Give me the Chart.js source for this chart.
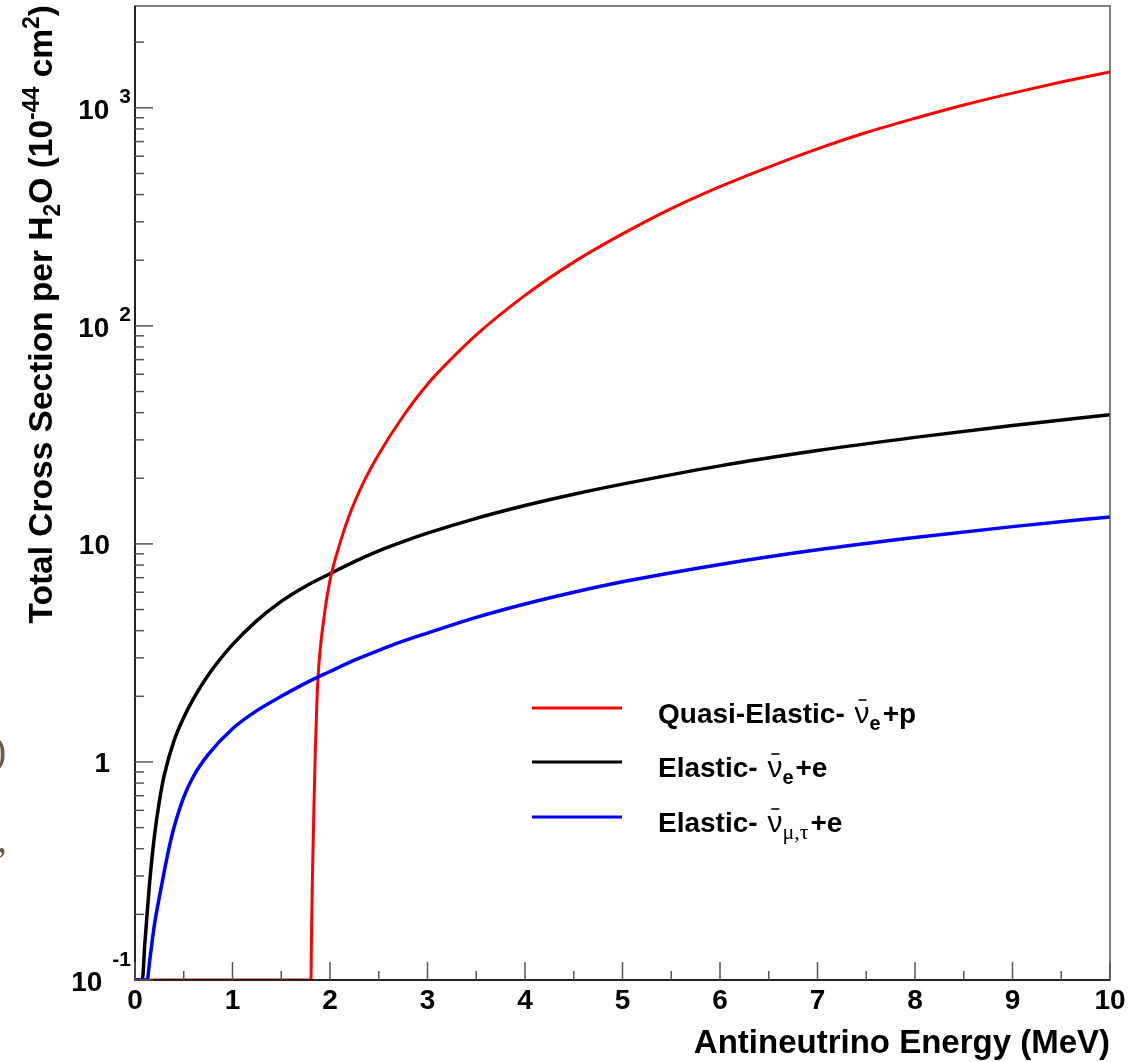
<!DOCTYPE html>
<html>
<head>
<meta charset="utf-8">
<script src="https://cdn.jsdelivr.net/npm/chart.js@4.4.0/dist/chart.umd.min.js"></script>
<style>
  html, body { margin: 0; padding: 0; background: #fff; }
  canvas { display: block; }
</style>
</head>
<body>
<canvas id="xsecChart" width="1130" height="1062"></canvas>
<script>
// antineutrino energy (MeV) and total cross section per H2O (1e-44 cm^2)
var energyQE = [0, 1.805, 1.81, 1.82, 1.835, 1.85, 1.865, 1.88, 1.9, 1.95, 2.0, 2.1, 2.2, 2.35, 2.5, 2.75, 3.0, 3.25, 3.5, 4.0, 4.5, 5.0, 5.5, 6.0, 6.5, 7.0, 7.5, 8.0, 8.5, 9.0, 9.5, 10.0];
var xsecQE   = [0.1, 0.1, 0.16, 0.3, 0.62, 1.15, 1.85, 2.55, 3.3, 5.0, 6.8, 10.0, 13.6, 19.4, 25.8, 38.5, 54, 71, 91, 138, 196, 264, 345, 435, 535, 648, 770, 895, 1030, 1168, 1312, 1460];

var energyEl = [0, 0.075, 0.1, 0.12, 0.15, 0.2, 0.25, 0.3, 0.4, 0.5, 0.6, 0.75, 1.0, 1.25, 1.5, 1.75, 2.0, 2.25, 2.5, 2.75, 3.0, 3.5, 4.0, 4.5, 5.0, 6.0, 7.0, 8.0, 9.0, 10.0];
var xsecEl   = [0.1, 0.1, 0.145, 0.19, 0.28, 0.46, 0.66, 0.87, 1.25, 1.6, 1.95, 2.5, 3.45, 4.45, 5.45, 6.4, 7.3, 8.3, 9.3, 10.25, 11.2, 13.1, 15.0, 16.9, 18.8, 22.8, 26.8, 30.8, 34.9, 39.1];

var energyMuTau = [0, 0.125, 0.15, 0.2, 0.25, 0.3, 0.35, 0.4, 0.5, 0.6, 0.75, 1.0, 1.25, 1.5, 1.75, 2.0, 2.25, 2.5, 2.75, 3.0, 3.5, 4.0, 4.5, 5.0, 6.0, 7.0, 8.0, 9.0, 10.0];
var xsecMuTau   = [0.1, 0.1, 0.122, 0.18, 0.24, 0.315, 0.405, 0.5, 0.69, 0.86, 1.08, 1.42, 1.72, 2.0, 2.3, 2.6, 2.93, 3.25, 3.58, 3.9, 4.6, 5.3, 6.0, 6.7, 8.05, 9.4, 10.7, 12.0, 13.3];

var xTickValues = [0, 1, 2, 3, 4, 5, 6, 7, 8, 9, 10];
var yTickLabels = [
  { v: 0.1, base: '10', exp: '-1' },
  { v: 1, base: '1' },
  { v: 10, base: '10' },
  { v: 100, base: '10', exp: '2' },
  { v: 1000, base: '10', exp: '3' }
];

var FONT = '"Liberation Sans", Arial, Helvetica, sans-serif';
var SERIF = '"Liberation Serif", "Times New Roman", serif';

function toPoints(xs, ys) {
  return xs.map(function (x, i) { return { x: x, y: ys[i] }; });
}

// draws a run of text pieces: [text, font, dy]
function drawRun(ctx, x, y, pieces) {
  pieces.forEach(function (p) {
    ctx.font = p[1];
    ctx.fillText(p[0], x, y + (p[2] || 0));
    x += ctx.measureText(p[0]).width;
  });
  return x;
}
function runWidth(ctx, pieces) {
  var w = 0;
  pieces.forEach(function (p) { ctx.font = p[1]; w += ctx.measureText(p[0]).width; });
  return w;
}

function drawNuBar(ctx, x, y, sub, subFont) {
  ctx.font = '30px ' + FONT;
  var w = ctx.measureText('\u03bd').width;
  ctx.fillText('\u03bd', x, y);
  ctx.save();
  ctx.lineWidth = 1.6;
  ctx.strokeStyle = '#000';
  ctx.beginPath();
  ctx.moveTo(x + 4, y - 23);
  ctx.lineTo(x + w - 3, y - 23);
  ctx.stroke();
  ctx.restore();
  ctx.font = subFont;
  ctx.fillText(sub, x + w, y + 7);
  return x + w + ctx.measureText(sub).width;
}

var rootFrame = {
  id: 'rootFrame',
  afterDatasetsDraw: function (chart) {
    var ctx = chart.ctx, a = chart.chartArea;
    var xs = chart.scales.x, ys = chart.scales.y;
    ctx.save();
    ctx.strokeStyle = '#555';
    ctx.lineWidth = 1.5;
    ctx.strokeRect(a.left, a.top, a.right - a.left, a.bottom - a.top);
    ctx.strokeStyle = '#222';
    ctx.lineWidth = 2;
    ctx.beginPath();
    ctx.moveTo(a.left, a.top);
    ctx.lineTo(a.left, a.bottom);
    ctx.lineTo(a.right, a.bottom);
    ctx.stroke();

    // x ticks (inside, pointing up)
    ctx.strokeStyle = '#555';
    ctx.lineWidth = 1.5;
    for (var i = 0; i < xTickValues.length; i++) {
      var px = xs.getPixelForValue(xTickValues[i]);
      ctx.beginPath(); ctx.moveTo(px, a.bottom); ctx.lineTo(px, a.bottom - 18); ctx.stroke();
      if (i < xTickValues.length - 1) {
        var pm = xs.getPixelForValue((xTickValues[i] + xTickValues[i + 1]) / 2);
        ctx.beginPath(); ctx.moveTo(pm, a.bottom); ctx.lineTo(pm, a.bottom - 9); ctx.stroke();
      }
    }
    // y ticks (inside, pointing right), log decades + minors
    for (var d = 0.1; d <= 1000; d *= 10) {
      for (var m = 1; m <= 9; m++) {
        var v = d * m;
        if (v > ys.max) break;
        var py = ys.getPixelForValue(v);
        var len = m === 1 ? 18 : 9;
        ctx.beginPath(); ctx.moveTo(a.left, py); ctx.lineTo(a.left + len, py); ctx.stroke();
      }
    }
    ctx.restore();
  },
  afterDraw: function (chart) {
    var ctx = chart.ctx, a = chart.chartArea;
    var xs = chart.scales.x, ys = chart.scales.y;
    ctx.save();
    ctx.fillStyle = '#000';

    // x tick labels
    ctx.font = 'bold 28px ' + FONT;
    ctx.textAlign = 'center';
    ctx.textBaseline = 'alphabetic';
    xTickValues.forEach(function (v) {
      ctx.fillText(String(v), xs.getPixelForValue(v), 1009);
    });

    // y tick labels with exponents
    yTickLabels.forEach(function (t) {
      var py = ys.getPixelForValue(t.v);
      ctx.textAlign = 'right';
      if (!t.exp) {
        ctx.font = 'bold 28px ' + FONT;
        ctx.fillText(t.base, 110, py + 10);
        return;
      }
      ctx.font = 'bold 21px ' + FONT;
      var ew = ctx.measureText(t.exp).width;
      var raise = t.exp.charAt(0) === '-' ? 14 : 5;
      ctx.fillText(t.exp, 131, py - raise);
      ctx.font = 'bold 28px ' + FONT;
      ctx.fillText(t.base, 131 - ew - 10, py + 11);
    });

    // x axis title
    ctx.textAlign = 'right';
    ctx.font = 'bold 33px ' + FONT;
    ctx.fillText('Antineutrino Energy (MeV)', a.right, 1053);

    // y axis title, rotated, ending at the top of the axis
    ctx.textAlign = 'left';
    var big = 'bold 33.5px ' + FONT, small = 'bold 23px ' + FONT;
    var title = [
      ['Total Cross Section per H', big, 0],
      ['2', small, 8],
      ['O (10', big, 0],
      ['-44', small, -13],
      [' cm', big, 0],
      ['2', small, -13],
      [')', big, 0]
    ];
    ctx.save();
    ctx.translate(52, a.top - 1);
    ctx.rotate(-Math.PI / 2);
    drawRun(ctx, -runWidth(ctx, title), 0, title);
    ctx.restore();

    // legend
    var rows = [
      { color: '#ff0000', y: 708, pre: 'Quasi-Elastic- ', sub: 'e', subFont: 'bold 20px ' + FONT, post: '+p' },
      { color: '#000000', y: 762, pre: 'Elastic- ', sub: 'e', subFont: 'bold 20px ' + FONT, post: '+e' },
      { color: '#0000ff', y: 817, pre: 'Elastic- ', sub: '\u03bc,\u03c4', subFont: '22px ' + SERIF, post: '+e' }
    ];
    ctx.textAlign = 'left';
    rows.forEach(function (r) {
      ctx.strokeStyle = r.color;
      ctx.lineWidth = 3;
      ctx.beginPath(); ctx.moveTo(532, r.y); ctx.lineTo(622, r.y); ctx.stroke();
      var tx = 658, base = r.y + 15;
      ctx.font = 'bold 28px ' + FONT;
      ctx.fillText(r.pre, tx, base);
      tx += ctx.measureText(r.pre).width + 2;
      tx = drawNuBar(ctx, tx, base, r.sub, r.subFont);
      ctx.font = 'bold 28px ' + FONT;
      ctx.fillText(r.post, tx + 2, base);
    });

    // bits of the page edge showing at the far left
    ctx.fillStyle = '#6b5a48';
    ctx.font = '40px ' + SERIF;
    ctx.fillText(')', -7, 764);
    ctx.fillText(',', -3, 852);
    ctx.restore();
  }
};

var ctx = document.getElementById('xsecChart').getContext('2d');
var chart = new Chart(ctx, {
  type: 'line',
  data: {
    datasets: [
      { label: 'Elastic- nu_mu,tau+e', data: toPoints(energyMuTau, xsecMuTau), borderColor: '#0000ff', borderWidth: 3.5 },
      { label: 'Quasi-Elastic- nu_e+p', data: toPoints(energyQE, xsecQE), borderColor: '#ff0000', borderWidth: 3 },
      { label: 'Elastic- nu_e+e', data: toPoints(energyEl, xsecEl), borderColor: '#000000', borderWidth: 3.5 }
    ]
  },
  options: {
    responsive: false,
    animation: false,
    events: [],
    layout: { padding: { left: 135, right: 20, top: 6, bottom: 82 } },
    elements: {
      point: { radius: 0 },
      line: { cubicInterpolationMode: 'monotone', fill: false }
    },
    plugins: { legend: { display: false }, tooltip: { enabled: false } },
    scales: {
      x: { type: 'linear', min: 0, max: 10, display: false },
      y: { type: 'logarithmic', min: 0.1, max: 2930, display: false }
    }
  },
  plugins: [rootFrame]
});
</script>
</body>
</html>
